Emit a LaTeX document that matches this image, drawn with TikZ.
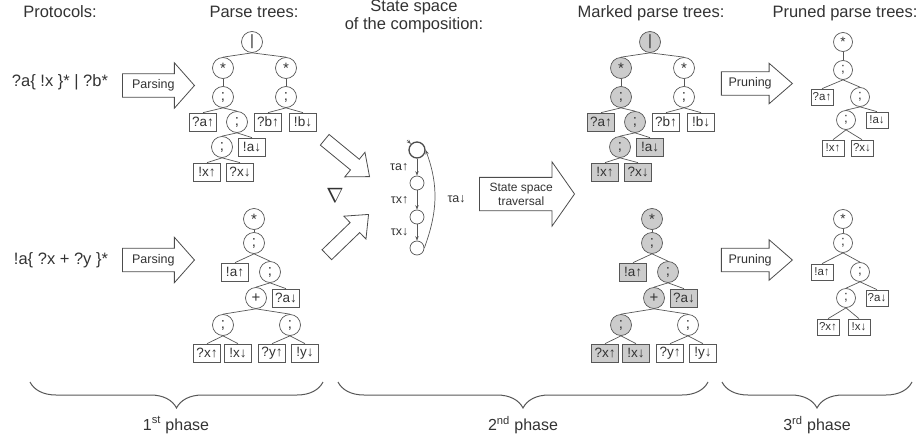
\documentclass[tikz,border=0pt]{standalone}
\usepackage{fontspec}
\setmainfont{Liberation Sans}
\usetikzlibrary{shapes.arrows,decorations.pathreplacing,arrows.meta}

\definecolor{inkgray}{gray}{0.2}
\definecolor{linegray}{gray}{0.34}
\definecolor{markgray}{gray}{0.8}

\tikzset{
	hd/.style={anchor=base, text=inkgray, font=\fontsize{16.5}{20}\selectfont},
	op/.style={circle, draw=linegray, line width=0.7pt, minimum size=21pt, inner sep=0pt, text=inkgray, font=\fontsize{15}{15}\selectfont},
	lf/.style={draw=linegray, line width=0.7pt, minimum width=27pt, minimum height=18pt, inner sep=0pt, text=inkgray, font=\fontsize{13.5}{14}\selectfont},
	opsm/.style={op, minimum size=19pt, font=\fontsize{13.5}{14}\selectfont},
	lfsm/.style={lf, minimum width=22pt, minimum height=16pt, font=\fontsize{11.5}{12}\selectfont},
	plain/.style={},
	marked/.style={fill=markgray},
	edge/.style={draw=linegray, line width=0.7pt},
	fatarrow/.style={single arrow, draw=black!70, fill=white, line width=0.8pt, inner xsep=2pt, single arrow head indent=0pt, text=inkgray, font=\fontsize{12.5}{14}\selectfont},
	state/.style={circle, draw=linegray, line width=0.7pt, minimum size=14pt, inner sep=0pt},
	trans/.style={draw=linegray, line width=0.7pt, -{Stealth[length=4.5pt,width=3.5pt]}},
	lbl/.style={text=inkgray, font=\fontsize{12.5}{13}\selectfont},
	brc/.style={draw=linegray, line width=1pt, decorate, decoration={brace, mirror, amplitude=26pt}},
	ph/.style={text=inkgray, font=\fontsize{16}{18}\selectfont}
}

% parse tree of the first protocol: #1 prefix, #2 left branch, #3 right branch
\newcommand{\treeone}[3]{%
	\node[op,#2] (#1r) at (252,-42) {|};
	\node[op,#2] (#1a) at (223,-68) {*};
	\node[op,#3] (#1b) at (286,-68) {*};
	\node[op,#2] (#1c) at (223,-97) {;};
	\node[op,#3] (#1d) at (286,-97) {;};
	\node[lf,#2] (#1e) at (203,-122) {?a↑};
	\node[op,#2] (#1f) at (237,-122) {;};
	\node[lf,#3] (#1g) at (268,-122) {?b↑};
	\node[lf,#3] (#1h) at (303,-122) {!b↓};
	\node[op,#2] (#1i) at (222,-147) {;};
	\node[lf,#2] (#1j) at (252,-147) {!a↓};
	\node[lf,#2] (#1k) at (207,-172) {!x↑};
	\node[lf,#2] (#1l) at (240,-172) {?x↓};
	\foreach \u/\v in {r/a,r/b,a/c,b/d,c/e,c/f,d/g,d/h,f/i,f/j,i/k,i/l}
		\draw[edge] (#1\u.south) -- (#1\v.north);
}

% parse tree of the second protocol: #1 prefix, #2 main part, #3 the ?y branch
\newcommand{\treetwo}[3]{%
	\node[op,#2] (#1a) at (254,-219) {*};
	\node[op,#2] (#1b) at (254,-243) {;};
	\node[lf,#2] (#1c) at (235,-272) {!a↑};
	\node[op,#2] (#1d) at (270,-272) {;};
	\node[op,#2] (#1e) at (256,-298) {+};
	\node[lf,#2] (#1f) at (286,-298) {?a↓};
	\node[op,#2] (#1g) at (223,-325) {;};
	\node[op,#3] (#1h) at (290,-325) {;};
	\node[lf,#2] (#1i) at (207,-353) {?x↑};
	\node[lf,#2] (#1j) at (238,-353) {!x↓};
	\node[lf,#3] (#1k) at (272,-353) {?y↑};
	\node[lf,#3] (#1l) at (305,-353) {!y↓};
	\foreach \u/\v in {a/b,b/c,b/d,d/e,d/f,e/g,e/h,g/i,g/j,h/k,h/l}
		\draw[edge] (#1\u.south) -- (#1\v.north);
}

\begin{document}
\begin{tikzpicture}[x=1pt,y=1pt]
	\useasboundingbox (0,0) rectangle (924,-439);

	% headings
	\node[hd] (hproto) at (60,-17) {Protocols:};
	\node[hd] (hparse) at (254,-17) {Parse trees:};
	\node[hd] (hstate) at (414,-12) {State space};
	\node[hd] (hcomp) at (414,-29) {of the composition:};
	\node[hd] (hmark) at (651,-17) {Marked parse trees:};
	\node[hd] (hprune) at (845,-17) {Pruned parse trees:};

	% 1st phase
	\node[text=inkgray, font=\fontsize{16.5}{20}\selectfont] (proto1) at (60,-82) {?a\{ !x \}* | ?b*};
	\node[text=inkgray, font=\fontsize{16.5}{20}\selectfont] (proto2) at (61,-260) {!a\{ ?x + ?y \}*};
	\node[fatarrow, minimum height=72pt, inner ysep=5.5pt, single arrow head extend=11pt, single arrow tip angle=97, anchor=tip] (parse1) at (195,-85.5) {Parsing};
	\node[fatarrow, minimum height=72pt, inner ysep=5.5pt, single arrow head extend=11pt, single arrow tip angle=97, anchor=tip] (parse2) at (195,-260) {Parsing};

	\treeone{p}{plain}{plain}
	\treetwo{q}{plain}{plain}

	% 2nd phase
	\node[fatarrow, minimum height=58pt, inner ysep=6.5pt, single arrow head extend=9pt, single arrow tip angle=80, rotate=-39.4, anchor=tip] (join1) at (370,-177) {};
	\node[fatarrow, minimum height=58pt, inner ysep=6.5pt, single arrow head extend=9pt, single arrow tip angle=80, rotate=44, anchor=tip] (join2) at (369,-214) {};
	\node[text=inkgray, font=\fontsize{20}{20}\selectfont] (nabla) at (335,-195) {$\nabla$};

	\node[state, minimum size=16pt, line width=1.3pt, draw=black!70] (s0) at (417,-150) {};
	\node[state] (s1) at (417,-183) {};
	\node[state] (s2) at (417,-217) {};
	\node[state] (s3) at (417,-248) {};
	\coordinate (init) at (407,-140);
	\draw[trans] (init) -- (s0);
	\draw[trans] (s0) -- node[lbl, left=5pt] {τa↑} (s1);
	\draw[trans] (s1) -- node[lbl, left=5pt] {τx↑} (s2);
	\draw[trans] (s2) -- node[lbl, left=5pt] {τx↓} (s3);
	\draw[trans] (s3.east) to[out=70, in=-70] node[lbl, right=9pt] {τa↓} (s0.east);

	\node[fatarrow, minimum height=95pt, inner ysep=5pt, single arrow head extend=15.5pt, single arrow tip angle=110, align=center, font=\fontsize{12}{14}\selectfont, anchor=tip] (trav) at (575,-194) {State space\\traversal};

	\begin{scope}[xshift=398pt]
		\treeone{m}{marked}{plain}
		\treetwo{n}{marked}{plain}
	\end{scope}

	% 3rd phase
	\node[fatarrow, minimum height=71pt, inner ysep=5.5pt, single arrow head extend=8.5pt, single arrow tip angle=82, anchor=tip] (prune1) at (793,-83.5) {Pruning};
	\node[fatarrow, minimum height=71pt, inner ysep=5.5pt, single arrow head extend=8.5pt, single arrow tip angle=82, anchor=tip] (prune2) at (793,-260) {Pruning};

	\node[opsm] (ua) at (843,-42) {*};
	\node[opsm] (ub) at (843,-70) {;};
	\node[lfsm] (uc) at (822,-97) {?a↑};
	\node[opsm] (ud) at (860,-97) {;};
	\node[opsm] (ue) at (846,-120) {;};
	\node[lfsm] (uf) at (877,-120) {!a↓};
	\node[lfsm] (ug) at (833,-148) {!x↑};
	\node[lfsm] (uh) at (862,-148) {?x↓};

	\node[opsm] (va) at (843,-219) {*};
	\node[opsm] (vb) at (843,-243) {;};
	\node[lfsm] (vc) at (822,-272) {!a↑};
	\node[opsm] (vd) at (860,-272) {;};
	\node[opsm] (ve) at (846,-298) {;};
	\node[lfsm] (vf) at (877,-298) {?a↓};
	\node[lfsm] (vg) at (828,-327) {?x↑};
	\node[lfsm] (vh) at (859,-327) {!x↓};

	\foreach \t in {u,v}{
		\foreach \u/\v in {a/b,b/c,b/d,d/e,d/f,e/g,e/h}
			\draw[edge] (\t\u.south) -- (\t\v.north);
	}

	% phases
	\draw[brc] (30,-382) -- (323,-382);
	\draw[brc] (338,-382) -- (708,-382);
	\draw[brc] (722,-382) -- (912,-382);
	\node[ph] (ph1) at (176,-425) {1\textsuperscript{st} phase};
	\node[ph] (ph2) at (523,-425) {2\textsuperscript{nd} phase};
	\node[ph] (ph3) at (817,-425) {3\textsuperscript{rd} phase};

\end{tikzpicture}
\end{document}
